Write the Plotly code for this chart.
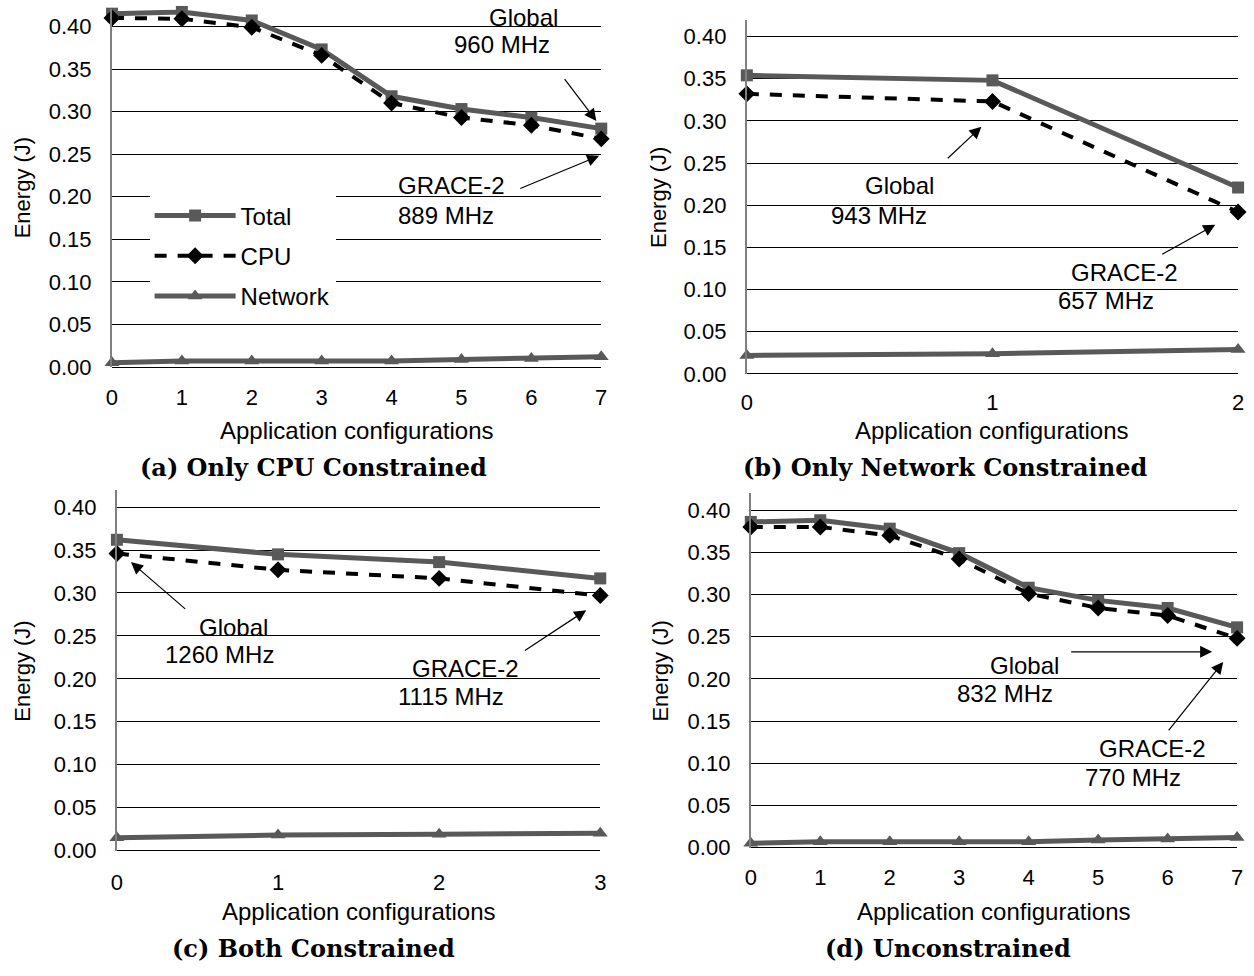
import plotly.graph_objects as go

# ---------------- data ----------------
configs_a = [0, 1, 2, 3, 4, 5, 6, 7]
total_a = [0.415, 0.417, 0.407, 0.373, 0.318, 0.303, 0.293, 0.280]
cpu_a = [0.410, 0.409, 0.399, 0.366, 0.310, 0.293, 0.284, 0.268]
net_a = [0.005, 0.007, 0.007, 0.007, 0.007, 0.009, 0.010, 0.012]

configs_b = [0, 1, 2]
total_b = [0.354, 0.348, 0.221]
cpu_b = [0.332, 0.323, 0.192]
net_b = [0.022, 0.024, 0.029]

configs_c = [0, 1, 2, 3]
total_c = [0.362, 0.345, 0.336, 0.317]
cpu_c = [0.346, 0.327, 0.317, 0.297]
net_c = [0.015, 0.018, 0.019, 0.020]

configs_d = [0, 1, 2, 3, 4, 5, 6, 7]
total_d = [0.386, 0.388, 0.378, 0.349, 0.308, 0.293, 0.284, 0.261]
cpu_d = [0.380, 0.380, 0.370, 0.342, 0.301, 0.284, 0.275, 0.248]
net_d = [0.005, 0.007, 0.007, 0.007, 0.007, 0.009, 0.010, 0.012]

series_names = ["Total", "CPU", "Network"]
y_ticks = [0.00, 0.05, 0.10, 0.15, 0.20, 0.25, 0.30, 0.35, 0.40]
y_tick_text = ["0.00", "0.05", "0.10", "0.15", "0.20", "0.25", "0.30", "0.35", "0.40"]
subtitles = ["(a) Only CPU Constrained", "(b) Only Network Constrained",
             "(c) Both Constrained", "(d) Unconstrained"]
x_title = "Application configurations"
y_title = "Energy (J)"

labels_a = [("Global", "960 MHz"), ("GRACE-2", "889 MHz")]
labels_b = [("Global", "943 MHz"), ("GRACE-2", "657 MHz")]
labels_c = [("Global", "1260 MHz"), ("GRACE-2", "1115 MHz")]
labels_d = [("Global", "832 MHz"), ("GRACE-2", "770 MHz")]

# ---------------- layout geometry (pixels) ----------------
W, H = 1254, 976
YMAX = 0.42
# (x_left, x_right, y_zero_px, px_per_unit, x tick standoff)
geom = {
    "a": (107, 601, 372, 863, 15),
    "b": (748, 1244, 379, 855, 13),
    "c": (112, 600, 862, 870, 16),
    "d": (752, 1243, 859, 855, 14),
}

def px_x(p):
    return p / W

def px_y(p):
    return 1 - p / H

FONT = "Liberation Sans, Arial, sans-serif"
SERIF = "DejaVu Serif, serif"
TOTAL_C = "#595959"
NET_C = "#595959"
TXT = 24
TICK = 22

fig = go.Figure()

panels = [
    ("a", configs_a, total_a, cpu_a, net_a),
    ("b", configs_b, total_b, cpu_b, net_b),
    ("c", configs_c, total_c, cpu_c, net_c),
    ("d", configs_d, total_d, cpu_d, net_d),
]

for i, (key, xs, tot, cpu, net) in enumerate(panels):
    sfx = "" if i == 0 else str(i + 1)
    xa, ya = "x" + sfx, "y" + sfx
    show = (i == 0)
    fig.add_trace(go.Scatter(
        x=xs, y=tot, mode="lines+markers", name=series_names[0],
        line=dict(color=TOTAL_C, width=5),
        marker=dict(symbol="square", size=12, color=TOTAL_C),
        xaxis=xa, yaxis=ya, showlegend=show, legendgroup="t", cliponaxis=False))
    fig.add_trace(go.Scatter(
        x=xs, y=cpu, mode="lines+markers", name=series_names[1],
        line=dict(color="black", width=4, dash="12px,11px"),
        marker=dict(symbol="diamond", size=13, color="black"),
        xaxis=xa, yaxis=ya, showlegend=show, legendgroup="c", cliponaxis=False))
    fig.add_trace(go.Scatter(
        x=xs, y=net, mode="lines+markers", name=series_names[2],
        line=dict(color=NET_C, width=5),
        marker=dict(symbol="triangle-up", size=13, color=NET_C),
        xaxis=xa, yaxis=ya, showlegend=show, legendgroup="n", cliponaxis=False))

    xl, xr, y0, ppu, xso = geom[key]
    ytop = y0 - YMAX * ppu
    xkey = "xaxis" + sfx
    ykey = "yaxis" + sfx
    fig.update_layout(**{
        xkey: dict(domain=[px_x(xl), px_x(xr)], anchor=ya, range=[0, len(xs) - 1],
                   tickvals=xs, ticktext=[str(v) for v in xs], showgrid=False,
                   zeroline=False, showline=False, ticks="",
                   ticklabelstandoff=xso,
                   tickfont=dict(family=FONT, size=TICK, color="black")),
        ykey: dict(domain=[px_y(y0), px_y(ytop)], anchor=xa, range=[0, YMAX],
                   tickvals=y_ticks, ticktext=y_tick_text, showgrid=True,
                   gridcolor="black", gridwidth=1, zeroline=True,
                   zerolinecolor="black", zerolinewidth=1,
                   showline=True, linecolor="#7f7f7f", linewidth=2, ticks="",
                   ticklabelstandoff=14,
                   tickfont=dict(family=FONT, size=TICK, color="black")),
    })

# ---------------- axis titles and subtitles ----------------
ann = []
ytitle_pos = {"a": (17, 190), "b": (659, 200), "c": (17, 680), "d": (661, 680)}
xtitle_y = {"a": 436, "b": 436, "c": 924, "d": 924}
sub_pos = {"a": (310, 474), "b": (948, 474), "c": (310, 961), "d": (951, 961)}
for key in ["a", "b", "c", "d"]:
    xl, xr, y0, ppu, xso = geom[key]
    tx, ty = ytitle_pos[key]
    ann.append(dict(text=y_title, x=px_x(tx), y=px_y(ty), xref="paper", yref="paper",
                    textangle=-90, showarrow=False, xanchor="center", yanchor="middle",
                    font=dict(family=FONT, size=TICK, color="black")))
    ann.append(dict(text=x_title, x=px_x((xl + xr) / 2), y=px_y(xtitle_y[key]),
                    xref="paper", yref="paper", showarrow=False,
                    xanchor="center", yanchor="middle",
                    font=dict(family=FONT, size=TXT, color="black")))
    sx, sy = sub_pos[key]
    ann.append(dict(text=subtitles["abcd".index(key)], x=px_x(sx), y=px_y(sy),
                    xref="paper", yref="paper", showarrow=False,
                    xanchor="center", yanchor="middle",
                    font=dict(family=SERIF, size=24, color="black", weight="bold")))

# ---------------- in-plot labels with arrows ----------------
label_pos = {
    "a": [(5.37, 0.411, 4.86, 0.379), (4.07, 0.213, 4.07, 0.178)],
    "b": [(0.473, 0.223, 0.335, 0.188), (1.313, 0.120, 1.257, 0.087)],
    "c": [(0.495, 0.260, 0.285, 0.228), (1.818, 0.212, 1.732, 0.179)],
    "d": [(3.42, 0.216, 2.94, 0.183), (4.98, 0.117, 4.78, 0.083)],
}
arrow_pos = {
    "a": [(6.46, 0.340, 6.93, 0.289), (5.82, 0.209, 6.97, 0.248)],
    "b": [(0.812, 0.254, 0.955, 0.293), (1.685, 0.141, 1.907, 0.177)],
    "c": [(0.433, 0.280, 0.087, 0.336), (2.523, 0.232, 2.913, 0.280)],
    "d": [(4.59, 0.232, 6.64, 0.232), (5.997, 0.137, 6.80, 0.220)],
}
label_sets = {"a": labels_a, "b": labels_b, "c": labels_c, "d": labels_d}
for i, key in enumerate(["a", "b", "c", "d"]):
    sfx = "" if i == 0 else str(i + 1)
    xr_, yr_ = "x" + sfx, "y" + sfx
    for (l1, l2), (x1, y1, x2, y2), (tx, ty, hx, hy) in zip(label_sets[key], label_pos[key], arrow_pos[key]):
        ann.append(dict(text=l1, x=x1, y=y1, xref=xr_, yref=yr_, showarrow=False,
                        xanchor="left", yanchor="middle",
                        font=dict(family=FONT, size=TXT, color="black")))
        ann.append(dict(text=l2, x=x2, y=y2, xref=xr_, yref=yr_, showarrow=False,
                        xanchor="left", yanchor="middle",
                        font=dict(family=FONT, size=TXT, color="black")))
        ann.append(dict(text="", x=hx, y=hy, ax=tx, ay=ty, xref=xr_, yref=yr_,
                        axref=xr_, ayref=yr_, showarrow=True, arrowhead=2,
                        arrowsize=2, arrowwidth=1.2, arrowcolor="black", standoff=0))

fig.update_layout(
    width=W, height=H, margin=dict(l=0, r=0, t=0, b=0),
    paper_bgcolor="white", plot_bgcolor="white",
    annotations=ann,
    showlegend=True,
    legend=dict(x=px_x(145), y=px_y(196), xanchor="left", yanchor="top",
                bgcolor="white", borderwidth=0, itemwidth=81,
                traceorder="grouped", tracegroupgap=6,
                font=dict(family=FONT, size=TXT, color="black")),
    shapes=[dict(type="rect", xref="paper", yref="paper", x0=px_x(122), x1=px_x(357),
                 y0=px_y(320), y1=px_y(190), fillcolor="white", line=dict(width=0),
                 layer="between")],
)

fig.write_html("out.html", config={"displayModeBar": False},
               post_script="document.body.style.margin='0';document.body.style.overflow='hidden';")
